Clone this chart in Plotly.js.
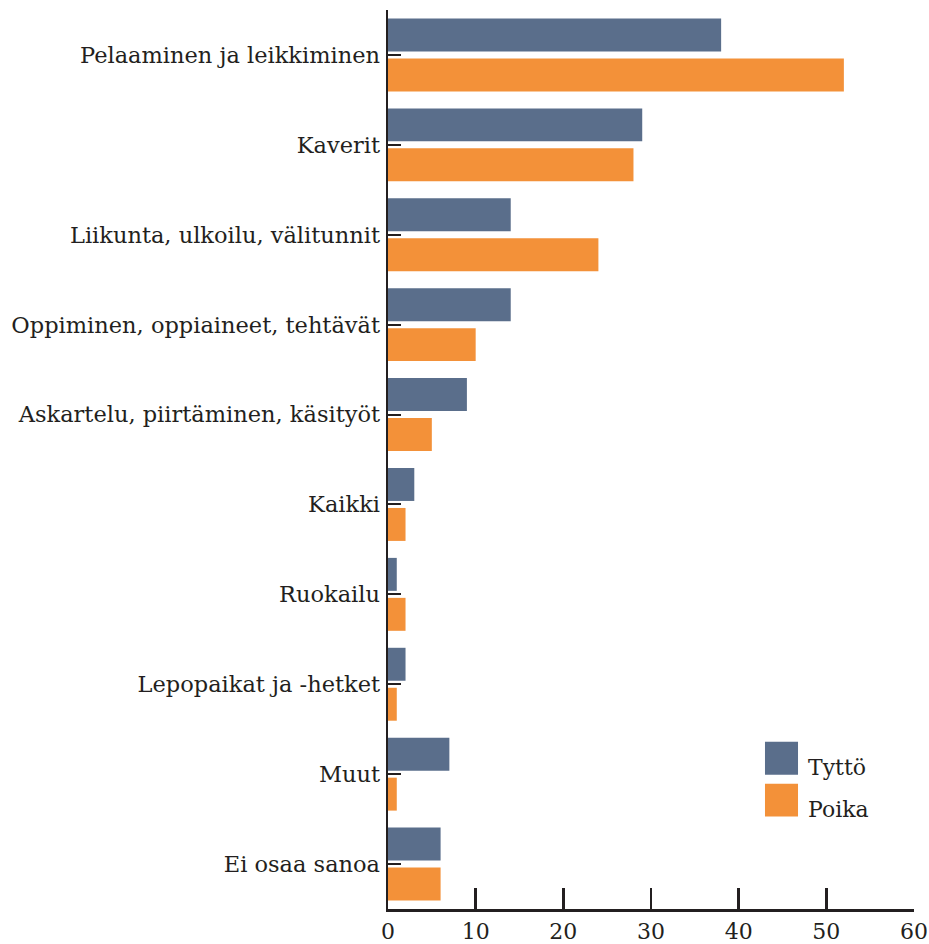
<!DOCTYPE html>
<html><head><meta charset="utf-8">
<script src="https://cdn.plot.ly/plotly-3.0.1.min.js"></script>
<style>html,body{margin:0;padding:0;background:#fff}#chart{width:929px;height:944px}</style>
</head><body><div id="chart"></div>
<script>
const categories = ["Pelaaminen ja leikkiminen","Kaverit","Liikunta, ulkoilu, välitunnit","Oppiminen, oppiaineet, tehtävät","Askartelu, piirtäminen, käsityöt","Kaikki","Ruokailu","Lepopaikat ja -hetket","Muut","Ei osaa sanoa"];
const tytto = [38,29,14,14,9,3,1,2,7,6];
const poika = [52,28,24,10,5,2,2,1,1,6];
const seriesNames = ["Tyttö","Poika"];
const xTicks = [0,10,20,30,40,50,60];

const colT = "#5a6e8b", colP = "#f39139", ink = "#231f20";
const FONT = "DejaVu Serif";

const traces = [
  {type:"bar", orientation:"h", name:seriesNames[0], y:categories, x:tytto, marker:{color:colT}, hoverinfo:"none"},
  {type:"bar", orientation:"h", name:seriesNames[1], y:categories, x:poika, marker:{color:colP}, hoverinfo:"none"}
];

const layout = {
  width:929, height:944,
  margin:{l:388, r:15, t:9.5, b:34.5, pad:0},
  paper_bgcolor:"#fff", plot_bgcolor:"#fff",
  barmode:"group", bargap:0.111, bargroupgap:0.175,
  showlegend:false,
  font:{family:FONT, color:ink, size:20},
  xaxis:{range:[0,60], tickvals:xTicks, ticktext:xTicks.map(String), ticks:"inside", ticklen:21, tickwidth:2.5, tickcolor:ink,
         showline:true, linecolor:ink, linewidth:2.5, showgrid:false, zeroline:false, tickfont:{size:22, family:FONT, color:ink}, ticklabelstandoff:1, fixedrange:true},
  yaxis:{autorange:"reversed", ticks:"inside", ticklen:13, tickwidth:2, tickcolor:ink, showline:true, linecolor:ink, linewidth:2.5,
         showgrid:false, zeroline:false, tickfont:{size:22.5, family:FONT, color:ink}, ticklabelstandoff:1, fixedrange:true},
  shapes:[
    {type:"rect", xref:"paper", yref:"paper", x0:0.7167, x1:0.7795, y0:0.1494, y1:0.1861, fillcolor:colT, line:{width:0}},
    {type:"rect", xref:"paper", yref:"paper", x0:0.7167, x1:0.7795, y0:0.1028, y1:0.1394, fillcolor:colP, line:{width:0}}
  ],
  annotations:[
    {xref:"paper", yref:"paper", x:0.7947, y:0.1572, xanchor:"left", yanchor:"middle", text:seriesNames[0], showarrow:false, font:{size:22, family:FONT, color:ink}},
    {xref:"paper", yref:"paper", x:0.7947, y:0.1106, xanchor:"left", yanchor:"middle", text:seriesNames[1], showarrow:false, font:{size:22, family:FONT, color:ink}}
  ]
};
Plotly.newPlot("chart", traces, layout, {staticPlot:true, displayModeBar:false});
</script></body></html>
